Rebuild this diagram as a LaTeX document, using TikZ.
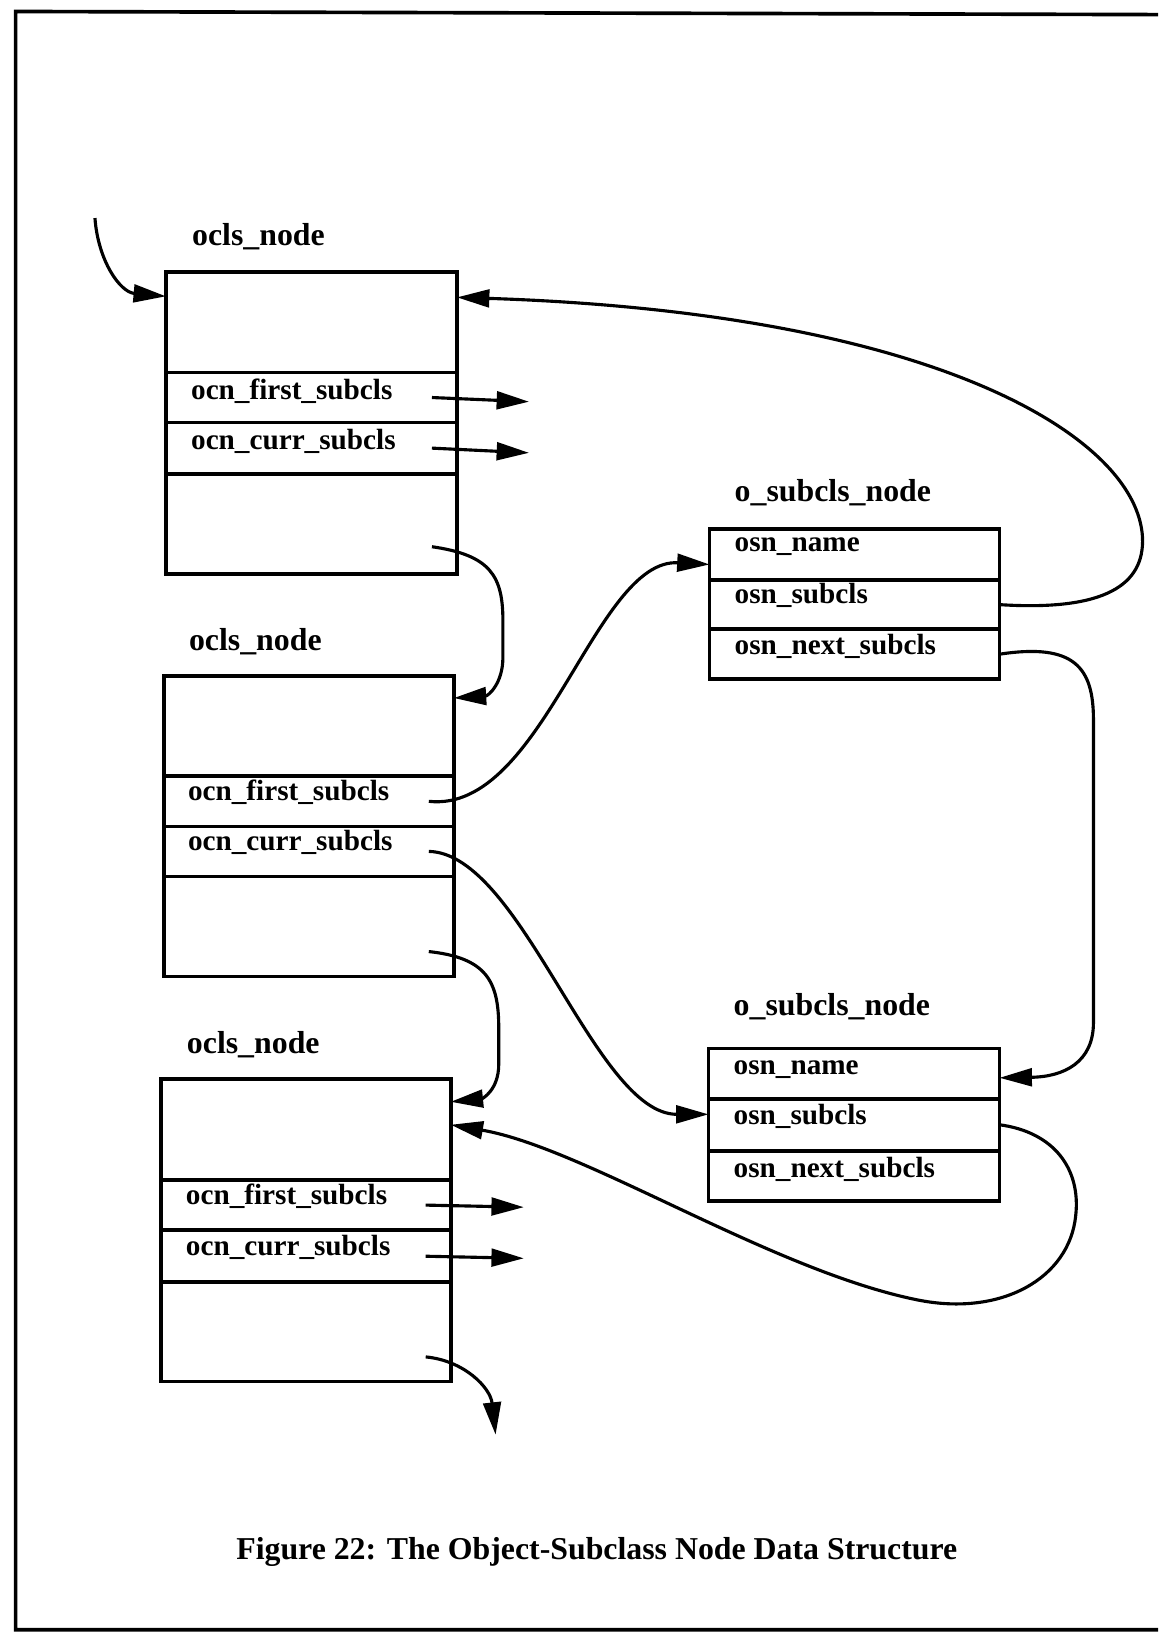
\documentclass[tikz,border=0pt]{standalone}
\usepackage{fontspec}
\setmainfont{Liberation Serif}
\usetikzlibrary{arrows.meta}
\begin{document}
\begin{tikzpicture}[x=1pt,y=-1pt,
  cell/.style={draw, line width=3.5pt, rectangle, inner sep=0pt, outer sep=0pt, anchor=north west},
  fld/.style={anchor=base west, inner sep=0pt, font=\fontsize{28}{30}\selectfont\bfseries},
  hdr/.style={anchor=base west, inner sep=0pt, font=\fontsize{30.5}{33}\selectfont\bfseries},
  capt/.style={anchor=base, inner sep=0pt, font=\fontsize{30.5}{33}\selectfont\bfseries},
  conn/.style={line width=3pt, -{Triangle[length=31pt,width=17pt]}},
  frame/.style={line width=3.5pt}
]
\useasboundingbox (0,0) rectangle (1110,1568);
\draw[frame] (1110,14) -- (15,11) -- (15,1562) -- (1110,1562);

% ---- ocls_node 1
\node[hdr] (h1) at (184,235) {ocls\_node};
\node[cell, minimum width=279pt, minimum height=96pt] (b1a) at (159,261) {};
\node[cell, minimum width=279pt, minimum height=48pt] (b1f) at (159,357) {};
\node[cell, minimum width=279pt, minimum height=49pt] (b1c) at (159,405) {};
\node[cell, minimum width=279pt, minimum height=96pt] (b1d) at (159,454) {};
\node[fld] (t1f) at (183,383) {ocn\_first\_subcls};
\node[fld] (t1c) at (183,431) {ocn\_curr\_subcls};

% ---- ocls_node 2
\node[hdr] (h2) at (181,623) {ocls\_node};
\node[cell, minimum width=278pt, minimum height=96pt] (b2a) at (157,648) {};
\node[cell, minimum width=278pt, minimum height=48pt] (b2f) at (157,744) {};
\node[cell, minimum width=278pt, minimum height=48pt] (b2c) at (157,792) {};
\node[cell, minimum width=278pt, minimum height=96pt] (b2d) at (157,840) {};
\node[fld] (t2f) at (180,767) {ocn\_first\_subcls};
\node[fld] (t2c) at (180,815) {ocn\_curr\_subcls};

% ---- ocls_node 3
\node[hdr] (h3) at (179,1010) {ocls\_node};
\node[cell, minimum width=278pt, minimum height=97pt] (b3a) at (154,1034) {};
\node[cell, minimum width=278pt, minimum height=48pt] (b3f) at (154,1131) {};
\node[cell, minimum width=278pt, minimum height=50pt] (b3c) at (154,1179) {};
\node[cell, minimum width=278pt, minimum height=95pt] (b3d) at (154,1229) {};
\node[fld] (t3f) at (178,1154) {ocn\_first\_subcls};
\node[fld] (t3c) at (178,1203) {ocn\_curr\_subcls};

% ---- o_subcls_node 1
\node[hdr] (h4) at (704,481) {o\_subcls\_node};
\node[cell, minimum width=278pt, minimum height=49pt] (s1n) at (680,507) {};
\node[cell, minimum width=278pt, minimum height=47pt] (s1s) at (680,556) {};
\node[cell, minimum width=278pt, minimum height=48pt] (s1x) at (680,603) {};
\node[fld] (u1n) at (704,529) {osn\_name};
\node[fld] (u1s) at (704,578) {osn\_subcls};
\node[fld] (u1x) at (704,627) {osn\_next\_subcls};

% ---- o_subcls_node 2
\node[hdr] (h5) at (703,973) {o\_subcls\_node};
\node[cell, minimum width=279pt, minimum height=48pt] (s2n) at (679,1005) {};
\node[cell, minimum width=279pt, minimum height=50pt] (s2s) at (679,1053) {};
\node[cell, minimum width=279pt, minimum height=48pt] (s2x) at (679,1103) {};
\node[fld] (u2n) at (703,1030) {osn\_name};
\node[fld] (u2s) at (703,1078) {osn\_subcls};
\node[fld] (u2x) at (703,1129) {osn\_next\_subcls};

% ---- free ends
\coordinate (in0) at (91,209);
\coordinate (e1f) at (507,385);
\coordinate (e1c) at (507,434);
\coordinate (e3f) at (502,1157);
\coordinate (e3c) at (502,1206);
\coordinate (e3d) at (475,1375);

% ---- connectors
\draw[conn] (in0) .. controls (94,250) and (115,280) .. (b1a.west |- 0,284);
\draw[conn] ([xshift=-24pt]b1f.east) -- (e1f);
\draw[conn] ([xshift=-24pt]b1c.east) -- (e1c);
\draw[conn] ([xshift=-24pt,yshift=-22pt]b1d.east) .. controls (470,532) and (482,552) .. (482,595)
   -- (482,630) .. controls (482,655) and (468,667) .. (b2a.east |- 0,669);

\draw[conn] (s1s.east) .. controls (1060,586) and (1097,560) .. (1095,515)
   .. controls (1090,420) and (900,300) .. (b1a.east |- 0,285);

\draw[conn] ([xshift=-24pt]b2f.east) .. controls (520,780) and (570,535) .. (s1n.west |- 0,541);
\draw[conn] ([xshift=-24pt]b2c.east) .. controls (500,818) and (570,1068) .. (s2s.west |- 0,1068);
\draw[conn] ([xshift=-24pt,yshift=-24pt]b2d.east) .. controls (466,918) and (478,940) .. (478,985)
   -- (478,1020) .. controls (478,1045) and (462,1053) .. (b3a.east |- 0,1056);

\draw[conn] (s1x.east) .. controls (1030,616) and (1048,640) .. (1048,690)
   -- (1048,980) .. controls (1048,1018) and (1020,1032) .. (s2n.east |- 0,1033);

\draw[conn] (s2s.east) .. controls (1010,1085) and (1036,1120) .. (1031,1165)
   .. controls (1025,1225) and (960,1262) .. (880,1246)
   .. controls (740,1218) and (560,1100) .. (b3a.east |- 0,1078);

\draw[conn] ([xshift=-24pt]b3f.east) -- (e3f);
\draw[conn] ([xshift=-24pt]b3c.east) -- (e3c);
\draw[conn] ([xshift=-24pt,yshift=-24pt]b3d.east) .. controls (445,1304) and (470,1330) .. (e3d);

% ---- caption
\node[capt] (cap) at (572,1495) {Figure 22: The Object-Subclass Node Data Structure};
\end{tikzpicture}
\end{document}
